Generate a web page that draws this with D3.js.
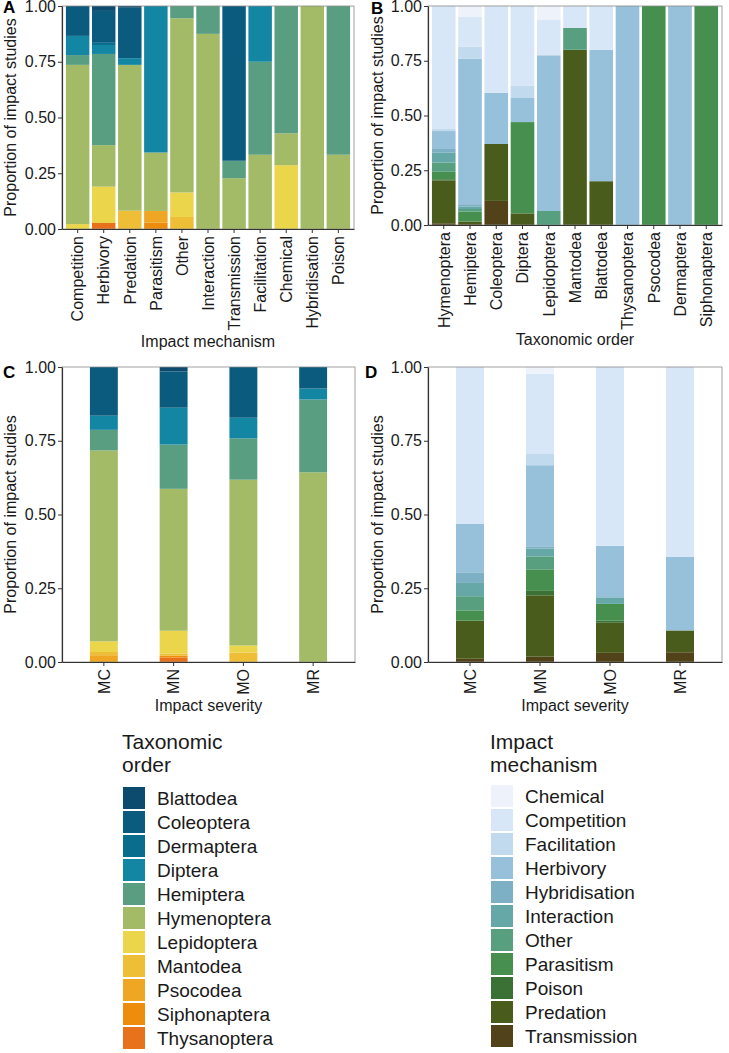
<!DOCTYPE html>
<html><head><meta charset="utf-8">
<script src="https://cdn.jsdelivr.net/npm/d3@7"></script>
<style>
body{margin:0;background:#fff}
svg{display:block}
text{font-family:"Liberation Sans", Arial, Helvetica, sans-serif}
</style></head>
<body>
<svg id="chart" width="729" height="1053"></svg>
<script>
// ---------- categories ----------
const orders = ["Blattodea","Coleoptera","Dermaptera","Diptera","Hemiptera","Hymenoptera","Lepidoptera","Mantodea","Psocodea","Siphonaptera","Thysanoptera"];
const orderColors = ["#0c4a6e","#0a5b7d","#0b6d8d","#1286a2","#5a9e82","#a3bb66","#ebd54a","#eebe37","#eea623","#ee8c0d","#e8721b"];
const mechanisms = ["Chemical","Competition","Facilitation","Herbivory","Hybridisation","Interaction","Other","Parasitism","Poison","Predation","Transmission"];
const mechColors = ["#eef3fb","#d8e7f7","#c1daee","#97c0da","#7db0c5","#66a8a7","#589f80","#478f4f","#3b7134","#4a5c1c","#52421a"];
const mechCatsA = ["Competition","Herbivory","Predation","Parasitism","Other","Interaction","Transmission","Facilitation","Chemical","Hybridisation","Poison"];
const orderCatsB = ["Hymenoptera","Hemiptera","Coleoptera","Diptera","Lepidoptera","Mantodea","Blattodea","Thysanoptera","Psocodea","Dermaptera","Siphonaptera"];
const severities = ["MC","MN","MO","MR"];
const yTickValues = [0, 0.25, 0.5, 0.75, 1];

// ---------- Panel A: proportion by taxonomic order, per impact mechanism (mechCatsA order) ----------
const A_Blattodea    = [0, 0.022, 0.008, 0, 0, 0, 0, 0, 0, 0, 0];
const A_Coleoptera   = [0.134, 0.143, 0.226, 0, 0, 0, 0.694, 0, 0, 0, 0];
const A_Dermaptera   = [0, 0.010, 0, 0, 0, 0, 0, 0, 0, 0, 0];
const A_Diptera      = [0.086, 0.040, 0.030, 0.657, 0, 0, 0, 0.250, 0, 0, 0];
const A_Hemiptera    = [0.044, 0.409, 0, 0, 0.055, 0.125, 0.078, 0.417, 0.571, 0, 0.667];
const A_Hymenoptera  = [0.714, 0.186, 0.654, 0.262, 0.781, 0.875, 0.228, 0.333, 0.143, 1, 0.333];
const A_Lepidoptera  = [0.022, 0.163, 0, 0, 0.110, 0, 0, 0, 0.286, 0, 0];
const A_Mantodea     = [0, 0, 0.082, 0, 0.054, 0, 0, 0, 0, 0, 0];
const A_Psocodea     = [0, 0, 0, 0.053, 0, 0, 0, 0, 0, 0, 0];
const A_Siphonaptera = [0, 0, 0, 0.028, 0, 0, 0, 0, 0, 0, 0];
const A_Thysanoptera = [0, 0.027, 0, 0, 0, 0, 0, 0, 0, 0, 0];

// ---------- Panel B: proportion by impact mechanism, per taxonomic order (orderCatsB order) ----------
const B_Chemical      = [0, 0.050, 0, 0, 0.064, 0, 0, 0, 0, 0, 0];
const B_Competition   = [0.559, 0.135, 0.397, 0.365, 0.161, 0.1, 0.2, 0, 0, 0, 0];
const B_Facilitation  = [0.012, 0.055, 0, 0.055, 0, 0, 0, 0, 0, 0, 0];
const B_Herbivory     = [0.082, 0.665, 0.233, 0.110, 0.711, 0, 0.6, 1, 0, 1, 0];
const B_Hybridisation = [0.017, 0.010, 0, 0, 0, 0, 0, 0, 0, 0, 0];
const B_Interaction   = [0.045, 0.012, 0, 0, 0, 0, 0, 0, 0, 0, 0];
const B_Other         = [0.042, 0.012, 0, 0, 0.064, 0.1, 0, 0, 0, 0, 0];
const B_Parasitism    = [0.034, 0.045, 0, 0.417, 0, 0, 0, 0, 1, 0, 1];
const B_Poison        = [0.005, 0, 0, 0, 0, 0, 0, 0, 0, 0, 0];
const B_Predation     = [0.196, 0.012, 0.260, 0.053, 0, 0.8, 0.2, 0, 0, 0, 0];
const B_Transmission  = [0.008, 0.004, 0.110, 0, 0, 0, 0, 0, 0, 0, 0];

// ---------- Panel C: proportion by taxonomic order, per impact severity ----------
const C_Blattodea    = [0, 0.015, 0, 0];
const C_Coleoptera   = [0.165, 0.123, 0.172, 0.073];
const C_Dermaptera   = [0, 0, 0, 0];
const C_Diptera      = [0.048, 0.125, 0.070, 0.037];
const C_Hemiptera    = [0.070, 0.150, 0.140, 0.247];
const C_Hymenoptera  = [0.647, 0.481, 0.562, 0.643];
const C_Lepidoptera  = [0.036, 0.077, 0.024, 0];
const C_Mantodea     = [0.011, 0.008, 0.032, 0];
const C_Psocodea     = [0.023, 0, 0, 0];
const C_Siphonaptera = [0, 0.006, 0, 0];
const C_Thysanoptera = [0, 0.015, 0, 0];

// ---------- Panel D: proportion by impact mechanism, per impact severity ----------
const D_Chemical      = [0, 0.023, 0, 0];
const D_Competition   = [0.531, 0.272, 0.606, 0.644];
const D_Facilitation  = [0, 0.038, 0, 0];
const D_Herbivory     = [0.165, 0.275, 0.171, 0.249];
const D_Hybridisation = [0.036, 0.007, 0.005, 0];
const D_Interaction   = [0.045, 0.027, 0.021, 0];
const D_Other         = [0.048, 0.044, 0, 0];
const D_Parasitism    = [0.035, 0.073, 0.057, 0];
const D_Poison        = [0, 0.015, 0.007, 0];
const D_Predation     = [0.129, 0.208, 0.102, 0.074];
const D_Transmission  = [0.011, 0.018, 0.031, 0.033];

// tables built from the arrays
const seriesA = {Blattodea:A_Blattodea, Coleoptera:A_Coleoptera, Dermaptera:A_Dermaptera, Diptera:A_Diptera, Hemiptera:A_Hemiptera, Hymenoptera:A_Hymenoptera, Lepidoptera:A_Lepidoptera, Mantodea:A_Mantodea, Psocodea:A_Psocodea, Siphonaptera:A_Siphonaptera, Thysanoptera:A_Thysanoptera};
const seriesB = {Chemical:B_Chemical, Competition:B_Competition, Facilitation:B_Facilitation, Herbivory:B_Herbivory, Hybridisation:B_Hybridisation, Interaction:B_Interaction, Other:B_Other, Parasitism:B_Parasitism, Poison:B_Poison, Predation:B_Predation, Transmission:B_Transmission};
const seriesC = {Blattodea:C_Blattodea, Coleoptera:C_Coleoptera, Dermaptera:C_Dermaptera, Diptera:C_Diptera, Hemiptera:C_Hemiptera, Hymenoptera:C_Hymenoptera, Lepidoptera:C_Lepidoptera, Mantodea:C_Mantodea, Psocodea:C_Psocodea, Siphonaptera:C_Siphonaptera, Thysanoptera:C_Thysanoptera};
const seriesD = {Chemical:D_Chemical, Competition:D_Competition, Facilitation:D_Facilitation, Herbivory:D_Herbivory, Hybridisation:D_Hybridisation, Interaction:D_Interaction, Other:D_Other, Parasitism:D_Parasitism, Poison:D_Poison, Predation:D_Predation, Transmission:D_Transmission};

const svg = d3.select("#chart");
const FONT = "16px";

function panel(o) {
  const rows = o.cats.map((c, i) => {
    const r = {cat: c};
    o.keys.forEach(k => r[k] = o.series[k][i]);
    return r;
  });
  const stacked = d3.stack().keys(o.keys.slice().reverse()).offset(d3.stackOffsetExpand)(rows);
  const color = d3.scaleOrdinal().domain(o.keys).range(o.colors);
  const x = d3.scaleBand().domain(o.cats).range([o.left, o.right])
    .paddingInner(1 - o.barWidth).paddingOuter(0.6 - o.barWidth / 2);
  const y = d3.scaleLinear().domain([0, 1]).range([o.bottom, o.top]);
  const g = svg.append("g");

  g.selectAll("g.layer").data(stacked).join("g").attr("class", "layer")
    .attr("fill", d => color(d.key))
    .selectAll("rect").data(d => d.filter(s => s[1] - s[0] > 0)).join("rect")
    .attr("x", d => x(d.data.cat))
    .attr("width", x.bandwidth())
    .attr("y", d => y(d[1]))
    .attr("height", d => y(d[0]) - y(d[1]));

  // panel border
  g.append("rect").attr("x", o.left).attr("y", o.top)
    .attr("width", o.right - o.left).attr("height", o.bottom - o.top)
    .attr("fill", "none").attr("stroke", "#8a8a8a").attr("stroke-width", 0.8);

  const ya = g.append("g").attr("transform", `translate(${o.left},0)`)
    .call(d3.axisLeft(y).tickValues(yTickValues).tickFormat(d3.format(".2f")).tickSize(4).tickSizeOuter(0).tickPadding(2));
  ya.selectAll("text").style("font-size", FONT).attr("fill", "#1a1a1a");
  ya.select(".domain").attr("stroke", "#333").attr("stroke-width", 1.2);
  ya.selectAll(".tick line").attr("stroke", "#333");

  const xa = g.append("g").attr("transform", `translate(0,${o.bottom})`)
    .call(d3.axisBottom(x).tickSize(4).tickSizeOuter(0));
  xa.select(".domain").attr("stroke", "#333").attr("stroke-width", 1.2);
  xa.selectAll(".tick line").attr("stroke", "#333");
  xa.selectAll("text").style("font-size", FONT).attr("fill", "#1a1a1a")
    .attr("transform", "rotate(-90)").attr("y", 0).attr("x", -o.tickGap)
    .attr("dy", "0.36em").style("text-anchor", "end");

  g.append("text").attr("transform", `translate(${o.yTitleX},${(o.top + o.bottom) / 2}) rotate(-90)`)
    .attr("text-anchor", "middle").style("font-size", FONT).attr("fill", "#1a1a1a")
    .text("Proportion of impact studies");
  g.append("text").attr("x", (o.left + o.right) / 2).attr("y", o.xTitleY)
    .attr("text-anchor", "middle").style("font-size", FONT).attr("fill", "#1a1a1a")
    .text(o.xTitle);
  g.append("text").attr("x", o.labelX).attr("y", o.labelY)
    .style("font-size", "17px").style("font-weight", "bold").attr("fill", "#000")
    .text(o.label);
}

panel({cats: mechCatsA, keys: orders, series: seriesA, colors: orderColors, barWidth: 0.9,
  left: 62, right: 354, top: 6, bottom: 229, tickGap: 7, yTitleX: 16, xTitleY: 347,
  xTitle: "Impact mechanism", label: "A", labelX: 3, labelY: 13});
panel({cats: orderCatsB, keys: mechanisms, series: seriesB, colors: mechColors, barWidth: 0.9,
  left: 428, right: 722, top: 6, bottom: 225, tickGap: 7, yTitleX: 383, xTitleY: 345,
  xTitle: "Taxonomic order", label: "B", labelX: 371, labelY: 14});
panel({cats: severities, keys: orders, series: seriesC, colors: orderColors, barWidth: 0.4,
  left: 62, right: 355, top: 367, bottom: 662, tickGap: 7, yTitleX: 16, xTitleY: 711,
  xTitle: "Impact severity", label: "C", labelX: 3, labelY: 378});
panel({cats: severities, keys: mechanisms, series: seriesD, colors: mechColors, barWidth: 0.4,
  left: 428, right: 722, top: 367, bottom: 662, tickGap: 7, yTitleX: 383, xTitleY: 711,
  xTitle: "Impact severity", label: "D", labelX: 365, labelY: 378});

function legend(o) {
  const g = svg.append("g");
  o.title.forEach((t, i) => g.append("text").attr("x", o.x).attr("y", o.titleY + i * 23)
    .style("font-size", "21px").attr("fill", "#1a1a1a").text(t));
  o.items.forEach((name, i) => {
    g.append("rect").attr("x", o.x + 1).attr("y", o.keyTop + i * 24)
      .attr("width", 22).attr("height", 22).attr("fill", o.colors[i]);
    g.append("text").attr("x", o.x + 35).attr("y", o.keyTop + i * 24 + 11)
      .attr("dy", "0.36em").style("font-size", "19px").attr("fill", "#1a1a1a").text(name);
  });
}
legend({x: 122, title: ["Taxonomic", "order"], titleY: 749, keyTop: 787, items: orders, colors: orderColors});
legend({x: 490, title: ["Impact", "mechanism"], titleY: 749, keyTop: 785, items: mechanisms, colors: mechColors});
</script>
</body></html>
